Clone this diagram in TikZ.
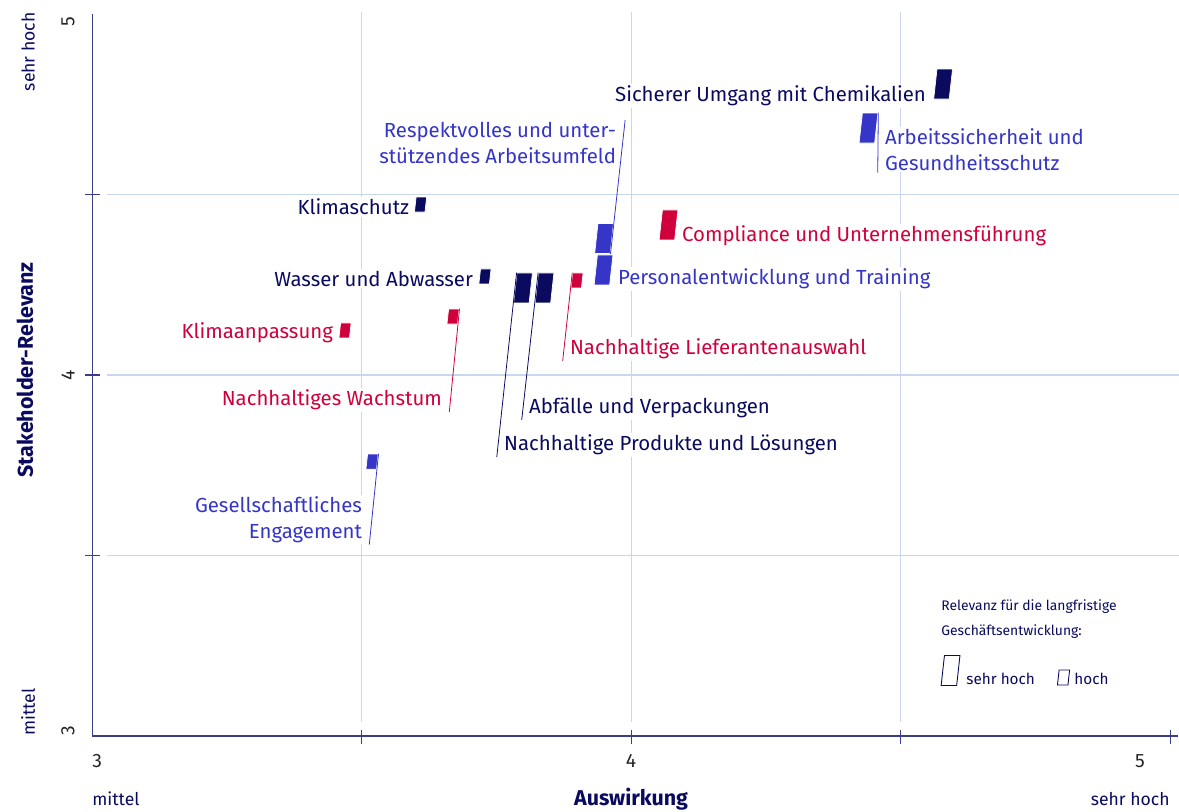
\documentclass[tikz,border=0pt]{standalone}
\usepackage{fontspec}
\setmainfont{Fira Sans}
\definecolor{matnavy}{HTML}{0A0A5F}
\definecolor{matblue}{HTML}{3535C8}
\definecolor{matred}{HTML}{D0003C}
\definecolor{matgrid}{HTML}{C8D7EA}
\definecolor{mataxis}{HTML}{3C3C8A}

\begin{document}
\begin{tikzpicture}[x=10.78cm, y=7.22cm,
  grid line/.style={matgrid, line width=0.6pt},
  axis line/.style={mataxis, line width=0.6pt},
  lbl/.style={fill=white, inner sep=1pt, yshift=-1pt, font=\fontsize{11.6}{14.5}\selectfont},
  leader/.style={line width=0.45pt},
  bigbox/.style={rectangle, xslant=0.11, transform shape, minimum width=0.31cm,
    minimum height=0.6cm, inner sep=0pt, draw=white, line width=0.4pt},
  smallbox/.style={bigbox, minimum width=0.21cm, minimum height=0.3cm},
  axnum/.style={inner sep=0pt, text=black!85, font=\fontsize{11}{13}\selectfont},
  axtxt/.style={inner sep=0pt, text=matnavy, font=\fontsize{10}{12}\selectfont},
  axtitle/.style={inner sep=0pt, text=matnavy, font=\fontsize{12.2}{14}\selectfont\bfseries}]
  \useasboundingbox (2.8293,2.7922) rectangle (5.0167,5.0388);

  \draw[grid line] (3.0278,3.5) -- (5.0167,3.5);
  \draw[grid line] (3.0278,4) -- (5.0167,4);
  \draw[grid line] (3.0278,4.5) -- (5.0167,4.5);
  \draw[grid line] (3.5,3.039) -- (3.5,5.0055);
  \draw[grid line] (4,3.039) -- (4,5.0055);
  \draw[grid line] (4.5,3.039) -- (4.5,5.0055);

  \draw[axis line] (3,5) -- (3,3) -- (5.0148,3);
  \draw[axis line] (2.987,3.5) -- (3.0148,3.5);
  \draw[axis line] (2.987,4) -- (3.0148,4);
  \draw[axis line] (2.987,4.5) -- (3.0148,4.5);
  \draw[axis line] (3.5,3.0166) -- (3.5,2.978);
  \draw[axis line] (4,3.0166) -- (4,2.978);
  \draw[axis line] (4.5,3.0166) -- (4.5,2.978);
  \draw[axis line] (5,3.0166) -- (5,2.978);

  \node[axnum, anchor=west] (x3) at (3,2.9307) {3};
  \node[axnum] (x4) at (4,2.9307) {4};
  \node[axnum] (x5) at (4.944,2.9307) {5};
  \node[axtxt, anchor=west] (xlow) at (3,2.8255) {mittel};
  \node[axtitle] (xtitle) at (4,2.8255) {Auswirkung};
  \node[axtxt, anchor=east] (xhigh) at (5,2.8255) {sehr hoch};
  \node[axnum, rotate=90] (y5) at (2.9555,4.978) {5};
  \node[axnum, rotate=90] (y4) at (2.9555,4) {4};
  \node[axnum, rotate=90] (y3) at (2.9555,3.014) {3};
  \node[axtxt, rotate=90, anchor=east] (yhigh) at (2.8813,5.0055) {sehr hoch};
  \node[axtxt, rotate=90, anchor=west] (ylow) at (2.8813,3) {mittel};
  \node[axtitle, rotate=90] (ytitle) at (2.8757,4.0139) {Stakeholder-Relevanz};

  \node[lbl, text=matnavy, anchor=east] (chemtxt) at (4.551,4.778) {Sicherer Umgang mit Chemikalien};
  \node[lbl, text=matblue, anchor=west, align=left] (arbtxt) at (4.4675,4.629) {Arbeitssicherheit und\\Gesundheitsschutz};
  \node[lbl, text=matblue, anchor=east, align=right] (resptxt) at (3.976,4.648) {Respektvolles und unter-\\stützendes Arbeitsumfeld};
  \node[lbl, text=matnavy, anchor=east] (klimatxt) at (3.592,4.471) {Klimaschutz};
  \node[lbl, text=matred, anchor=west] (comptxt) at (4.091,4.391) {Compliance und Unternehmensführung};
  \node[lbl, text=matnavy, anchor=east] (wastxt) at (3.7106,4.2715) {Wasser und Abwasser};
  \node[lbl, text=matblue, anchor=west] (perstxt) at (3.972,4.2715) {Personalentwicklung und Training};
  \node[lbl, text=matred, anchor=east] (anptxt) at (3.4508,4.122) {Klimaanpassung};
  \node[lbl, text=matred, anchor=west] (lieftxt) at (3.883,4.0776) {Nachhaltige Lieferantenauswahl};
  \node[lbl, text=matred, anchor=east] (wachtxt) at (3.653,3.936) {Nachhaltiges Wachstum};
  \node[lbl, text=matnavy, anchor=west] (abftxt) at (3.807,3.914) {Abfälle und Verpackungen};
  \node[lbl, text=matnavy, anchor=west] (prodtxt) at (3.7607,3.8116) {Nachhaltige Produkte und Lösungen};
  \node[lbl, text=matblue, anchor=east, align=right] (gestxt) at (3.5046,3.604) {Gesellschaftliches\\Engagement};

  \node[bigbox, fill=matnavy] (chembox) at (4.579,4.806) {};
  \node[bigbox, fill=matblue] (arbbox) at (4.4406,4.684) {};
  \node[bigbox, fill=matred] (compbox) at (4.0696,4.4155) {};
  \node[bigbox, fill=matblue] (respbox) at (3.950,4.378) {};
  \node[bigbox, fill=matblue] (persbox) at (3.949,4.291) {};
  \node[smallbox, fill=matnavy] (klimabox) at (3.6095,4.472) {};
  \node[smallbox, fill=matnavy] (wasbox) at (3.729,4.273) {};
  \node[bigbox, fill=matnavy] (prodbox) at (3.7996,4.241) {};
  \node[bigbox, fill=matnavy] (abfbox) at (3.8395,4.241) {};
  \node[smallbox, fill=matred] (liefbox) at (3.8998,4.262) {};
  \node[smallbox, fill=matred] (anpbox) at (3.4694,4.1233) {};
  \node[smallbox, fill=matred] (wachbox) at (3.6698,4.162) {};
  \node[smallbox, fill=matblue] (gesbox) at (3.5195,3.760) {};

  \draw[leader, matblue] (arbbox.north east) -- ([xshift=-3pt]arbtxt.south west);
  \draw[leader, matblue] (respbox.south east) -- ([xshift=4pt]resptxt.north east);
  \draw[leader, matnavy] (prodbox.north west) -- ([xshift=-3pt]prodtxt.south west);
  \draw[leader, matnavy] (abfbox.north west) -- ([xshift=-3pt]abftxt.south west);
  \draw[leader, matred] (liefbox.north west) -- ([xshift=-3pt]lieftxt.south west);
  \draw[leader, matred] (wachbox.north east) -- ([xshift=3pt]wachtxt.south east);
  \draw[leader, matblue] (gesbox.north east) -- ([xshift=3pt]gestxt.south east);

  \node[anchor=west, align=left, inner sep=0pt, text=matnavy, font=\fontsize{7.9}{14}\selectfont] (legtitle) at (4.575,3.324) {Relevanz für die langfristige\\Geschäftsentwicklung:};
  \node[bigbox, draw=matnavy, fill=white, line width=0.5pt] (legbig) at (4.5928,3.1814) {};
  \node[anchor=west, inner sep=0pt, text=matnavy, font=\fontsize{8.7}{10}\selectfont] (legbigtxt) at (4.6215,3.158) {sehr hoch};
  \node[smallbox, draw=matnavy, fill=white, line width=0.5pt] (legsmall) at (4.8024,3.162) {};
  \node[anchor=west, inner sep=0pt, text=matnavy, font=\fontsize{8.7}{10}\selectfont] (legsmalltxt) at (4.822,3.158) {hoch};
\end{tikzpicture}
\end{document}
